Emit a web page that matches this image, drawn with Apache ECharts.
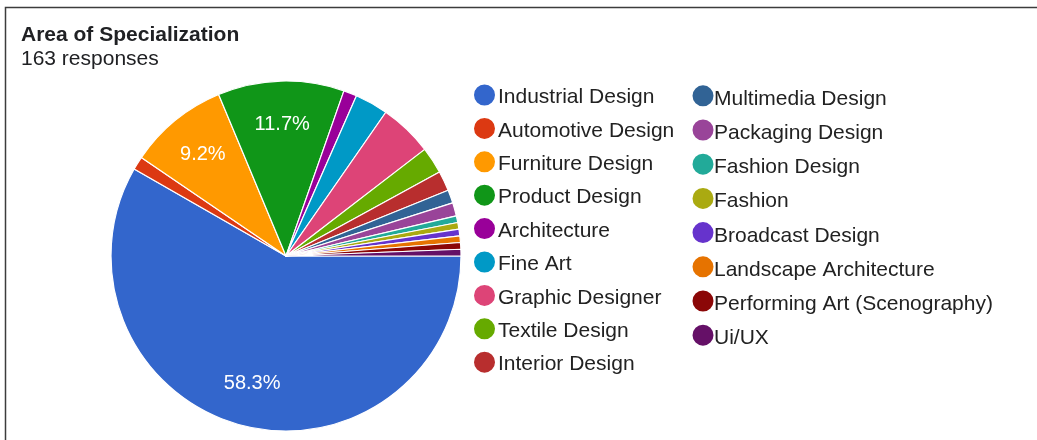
<!DOCTYPE html>
<html>
<head>
<meta charset="utf-8">
<script src="https://cdn.jsdelivr.net/npm/echarts@6/dist/echarts.min.js"></script>
<style>
  html, body { margin: 0; padding: 0; background: #fff; }
  #chart { width: 1037px; height: 440px; }
</style>
</head>
<body>
<div id="chart"></div>
<script>
// Survey answers: "Area of Specialization"
const categories = [
  'Industrial Design', 'Automotive Design', 'Furniture Design', 'Product Design',
  'Architecture', 'Fine Art', 'Graphic Designer', 'Textile Design', 'Interior Design',
  'Multimedia Design', 'Packaging Design', 'Fashion Design', 'Fashion',
  'Broadcast Design', 'Landscape Architecture', 'Performing Art (Scenography)', 'Ui/UX'
];
const counts = [95, 2, 15, 19, 2, 5, 8, 4, 3, 2, 2, 1, 1, 1, 1, 1, 1];
const palette = [
  '#3366cc', '#dc3912', '#ff9900', '#109618', '#990099', '#0099c6', '#dd4477',
  '#66aa00', '#b82e2e', '#316395', '#994499', '#22aa99', '#aaaa11', '#6633cc',
  '#e67300', '#8b0707', '#651067'
];
const totalResponses = 163;

const FONT = '"Liberation Sans", Arial, sans-serif';
const center = [286, 256];
const radius = 175;
const labelThreshold = 5; // percent; smaller slices are left unlabeled

const pieData = categories.map((name, i) => ({ name, value: counts[i] }));
const total = counts.reduce((a, b) => a + b, 0);

const legendItem = name => ({ name, icon: 'circle' });
const legendBase = {
  orient: 'vertical',
  padding: 0,
  itemWidth: 23,
  itemHeight: 23,
  selectedMode: false,
  formatter: name => '{t|' + name + '}'
};
// legend text sits a little below the marker's centre
const legendText = (dropPx, shiftX) => ({
  fontFamily: FONT, fontSize: 21, color: '#222222', padding: [0, 0, 0, shiftX],
  rich: { t: { fontFamily: FONT, fontSize: 21, color: '#222222', lineHeight: 19, padding: [dropPx, 0, 0, 0] } }
});

const chart = echarts.init(document.getElementById('chart'), null, { renderer: 'canvas' });
chart.setOption({
  animation: false,
  color: palette,
  title: {
    text: 'Area of Specialization',
    subtext: totalResponses + ' responses',
    left: 16,
    top: 20,
    itemGap: 3,
    textStyle: { fontFamily: FONT, fontSize: 21, fontWeight: 'bold', color: '#202124' },
    subtextStyle: { fontFamily: FONT, fontSize: 21, color: '#202124' }
  },
  legend: [
    Object.assign({}, legendBase, {
      left: 472, top: 82, itemGap: 7.4,
      textStyle: legendText(5, -3),
      data: categories.slice(0, 9).map(legendItem)
    }),
    Object.assign({}, legendBase, {
      left: 690.5, top: 82, itemGap: 6.6,
      textStyle: legendText(6.6, -5.5),
      data: categories.slice(9).map(legendItem)
    })
  ],
  graphic: [
    { type: 'polyline', silent: true, shape: { points: [[5.5, 440], [5.5, 7.5], [1037, 7.5]] },
      style: { stroke: '#3c3c3c', lineWidth: 1.5, fill: null } }
  ],
  series: [
    {
      type: 'pie',
      center: center,
      radius: radius,
      startAngle: 0,
      clockwise: true,
      avoidLabelOverlap: false,
      data: pieData,
      itemStyle: { borderColor: '#ffffff', borderWidth: 1.2 },
      label: { show: false },
      labelLine: { show: false },
      emphasis: { disabled: true }
    },
    {
      // label ring: same data, transparent slices, text placed near the rim
      type: 'pie',
      center: center,
      radius: [radius * 0.47, radius],
      startAngle: 0,
      clockwise: true,
      silent: true,
      avoidLabelOverlap: false,
      data: pieData,
      itemStyle: { color: 'rgba(0,0,0,0)', borderWidth: 0 },
      label: {
        show: true,
        position: 'inside',
        fontFamily: FONT,
        fontSize: 20,
        color: '#ffffff',
        formatter: p => {
          const pct = p.value / total * 100;
          return pct >= labelThreshold ? pct.toFixed(1) + '%' : '';
        }
      },
      labelLine: { show: false },
      emphasis: { disabled: true }
    }
  ]
});
</script>
</body>
</html>
